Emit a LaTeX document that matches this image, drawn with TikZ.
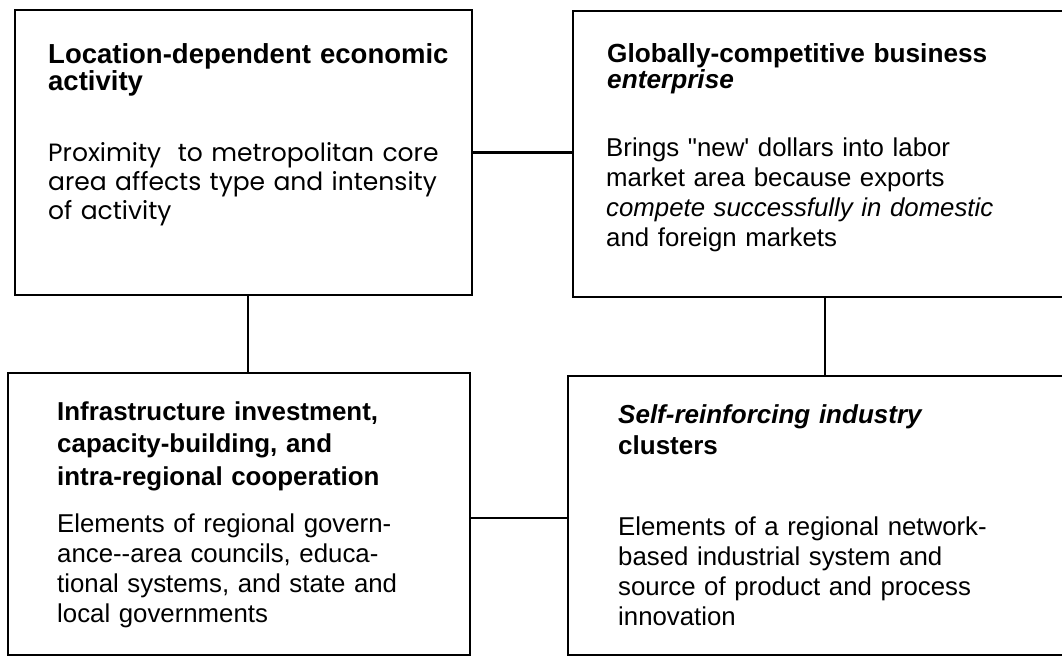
\documentclass[tikz,border=0pt]{standalone}
\usepackage{fontspec}
\setmainfont{Liberation Sans}
\newfontfamily\geofont{Poppins}
\newfontfamily\qfont[Ligatures=ResetAll]{Liberation Sans}
\begin{document}
\begin{tikzpicture}[x=1pt,y=1pt,
  box/.style={draw=black, line width=2.6pt, rectangle, inner sep=0pt},
  link/.style={draw=black, line width=2.6pt},
  title/.style={anchor=base west, inner sep=0pt, text width=470pt, align=left,
    font=\bfseries\fontsize{26}{32}\selectfont},
  body/.style={anchor=base west, inner sep=0pt, text width=470pt, align=left,
    font=\fontsize{25.8}{30}\selectfont}]
\clip (0,0) rectangle (1062,659);
\fill[white] (0,0) rectangle (1062,659);
% boxes
\node[box, minimum width=457pt, minimum height=285pt] (TL) at (243.5,506.5) {};
\node[box, minimum width=502pt, minimum height=286pt] (TR) at (824,505) {};
\node[box, minimum width=462pt, minimum height=282pt] (BL) at (239,145) {};
\node[box, minimum width=507pt, minimum height=279pt] (BR) at (821.5,143.5) {};
% texts
\node[title, font=\bfseries\fontsize{27.5}{27}\selectfont] (TLt) at (48,595) {Location-dependent economic\\activity};
\node[body, font=\geofont\fontsize{25}{29}\selectfont] (TLb) at (48,497) {Proximity\ \ to metropolitan core\\area affects type and intensity\\of activity};
\node[title, font=\bfseries\fontsize{26.2}{26}\selectfont] (TRt) at (607,596) {Globally-competitive business\\\textit{enterprise}};
\node[body] (TRb) at (606,502) {Brings {\qfont "}new{\qfont '} dollars into labor\\market area because exports\\\textit{compete successfully in domestic}\\and foreign markets};
\node[title, font=\bfseries\fontsize{25.9}{32.5}\selectfont] (BLt) at (57,239) {Infrastructure investment,\\capacity-building, and\\intra-regional cooperation};
\node[body] (BLb) at (57,127) {Elements of regional govern-\\ance-{}-area councils, educa-\\tional systems, and state and\\local governments};
\node[title] (BRt) at (618,236) {\textit{Self-reinforcing industry}\\clusters};
\node[body] (BRb) at (618,124) {Elements of a regional network-\\based industrial system and\\source of product and process\\innovation};
% connectors
\draw[link] (TL.east) -- (TL.east -| TR.west);
\draw[link] ([xshift=4.5pt]TL.south) -- ([xshift=4.5pt]TL.south |- BL.north);
\draw[link] ([xshift=1pt]TR.south) -- ([xshift=1pt]TR.south |- BR.north);
\draw[link] ([yshift=-4pt]BL.east) -- ([yshift=-4pt]BL.east -| BR.west);
\end{tikzpicture}
\end{document}
